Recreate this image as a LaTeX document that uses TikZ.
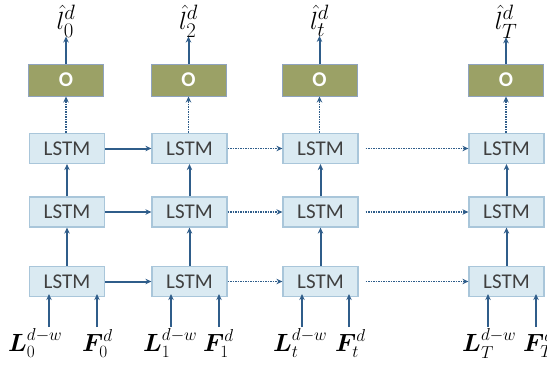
\documentclass[tikz,border=0pt]{standalone}
\usepackage{amsmath,bm}
\usepackage{fontspec}
\setmainfont{Carlito}
\usetikzlibrary{arrows.meta}
\definecolor{lstmfill}{HTML}{DAEAF2}
\definecolor{lstmdraw}{HTML}{A9C6DA}
\definecolor{ofill}{HTML}{9BA166}
\definecolor{odraw}{HTML}{8FA3BF}
\definecolor{arr}{HTML}{2F5D8A}
\definecolor{txt}{HTML}{404040}
\begin{document}
\begin{tikzpicture}[x=1pt,y=-1pt,
  lstm/.style={draw=lstmdraw,line width=1.2pt,fill=lstmfill,minimum width=75pt,minimum height=30pt,inner sep=0pt,font=\fontsize{21}{23}\selectfont,text=txt},
  obox/.style={draw=odraw,line width=1pt,fill=ofill,minimum width=75pt,minimum height=32pt,inner sep=0pt,font=\fontsize{21}{23}\selectfont\bfseries,text=white},
  sarr/.style={draw=arr,line width=2pt,-{Stealth[length=6pt,width=5.5pt]}},
  darr/.style={draw=arr,line width=1.5pt,dash pattern=on 1.5pt off 1pt,-{Stealth[length=6pt,width=5.5pt]}},
  lab/.style={inner sep=0pt,font=\fontsize{28}{30}\selectfont},
  inlab/.style={inner sep=0pt,anchor=base west,font=\fontsize{26}{28}\selectfont}
]
\useasboundingbox (0,0) rectangle (547,365);
% columns
\foreach \n/\x/\ox in {a/67/66, b/189.5/188.5, c/320.5/319.5, d/506.5/506}{
  \node[obox] (o\n) at (\ox,80) {O};
  \node[lstm] (t\n) at (\x,148.5) {LSTM};
  \node[lstm] (m\n) at (\x,212) {LSTM};
  \node[lstm] (b\n) at (\x,281.5) {LSTM};
  \draw[sarr] (b\n) -- (m\n);
  \draw[sarr] (m\n) -- (t\n);
  \draw[darr] (t\n.north -| o\n) -- (o\n.south);
}
% output labels
\node[lab,anchor=base] (ya) at (66,29) {$\hat{l}_0^{d}$};
\node[lab,anchor=base] (yb) at (188.5,29) {$\hat{l}_2^{d}$};
\node[lab,anchor=base] (yc) at (319.5,29) {$\hat{l}_t^{d}$};
\node[lab,anchor=base] (yd) at (506,29) {$\hat{l}_T^{d}$};
\foreach \n in {a,b,c,d}{\draw[sarr] (o\n.north) -- ([yshift=1pt]y\n.south -| o\n);}
% horizontal connections
\foreach \r in {t,m,b}{
  \draw[sarr] (\r a.east) -- (\r b.west);
  \draw[darr] (\r b.east) -- (\r c.west);
  \draw[darr] ([xshift=7pt]\r c.east) -- (\r d.west);
}
% inputs
\node[inlab] (la) at (8,351) {$\bm{L}_0^{d-w}$};
\node[inlab] (fa) at (82,351) {$\bm{F}_0^{d}$};
\node[inlab] (lb) at (143,351) {$\bm{L}_1^{d-w}$};
\node[inlab] (fb) at (203,351) {$\bm{F}_1^{d}$};
\node[inlab] (lc) at (273,351) {$\bm{L}_t^{d-w}$};
\node[inlab] (fc) at (335,351) {$\bm{F}_t^{d}$};
\node[inlab] (ld) at (462,351) {$\bm{L}_T^{d-w}$};
\node[inlab] (fd) at (523,351) {$\bm{F}_T^{d}$};
\foreach \n/\xl/\xf in {a/49/97, b/171/219, c/302/349, d/488/536}{
  \coordinate (il\n) at (\xl,327);
  \coordinate (if\n) at (\xf,327);
  \draw[sarr] (il\n) -- ([yshift=3pt]b\n.south -| il\n);
  \draw[sarr] (if\n) -- ([yshift=3pt]b\n.south -| if\n);
}
\end{tikzpicture}
\end{document}
